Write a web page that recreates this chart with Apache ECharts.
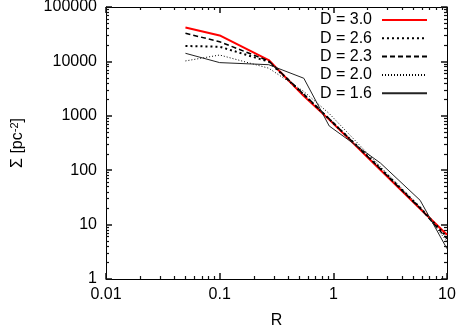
<!DOCTYPE html>
<html>
<head>
<meta charset="utf-8">
<script src="https://cdn.jsdelivr.net/npm/echarts@6/dist/echarts.min.js"></script>
<style>
  html, body { margin: 0; padding: 0; background: #fff; }
  #chart { width: 458px; height: 326px; }
</style>
</head>
<body>
<div id="chart"></div>
<script>
// radius grid shared by all profiles
const R = [0.05, 0.1, 0.27, 0.55, 0.92, 2.6, 5.8, 10];

// surface density profiles, pc^-2
const sigmaD30 = [42000, 30000, 10600, 2300, 850, 101, 19.5, 6.5];
const sigmaD26 = [19200, 18600, 9900, 2450, 870, 108, 20.5, 5.9];
const sigmaD23 = [32800, 23000, 10200, 2500, 880, 105, 20, 5.5];
const sigmaD20 = [10200, 13100, 7500, 2800, 1100, 115, 21, 4.9];
const sigmaD16 = [14100, 9500, 8700, 4900, 650, 135, 28, 3.6];

const seriesNames = ["D = 3.0", "D = 2.6", "D = 2.3", "D = 2.0", "D = 1.6"];

const FONT = "Liberation Sans, Arial, Helvetica, sans-serif";

const xRange = { min: 0.01, max: 10 };
const yRange = { min: 1, max: 100000 };

function fmtTick(v) {
  return String(+Number(v).toPrecision(6));
}

function pairs(ys) {
  return R.map((r, i) => [r, ys[i]]);
}

function lineSeries(name, ys, style) {
  return {
    name,
    type: "line",
    data: pairs(ys),
    symbol: "none",
    lineStyle: style,
    itemStyle: { color: style.color },
    emphasis: { disabled: true }
  };
}

function logAxis(range, position, labels, extra) {
  return Object.assign({
    type: "log",
    min: range.min,
    max: range.max,
    interval: 1,
    position,
    axisLine: { show: true, onZero: false, lineStyle: { color: "#000", width: 1 } },
    axisTick: { show: true, inside: true, length: 6, lineStyle: { color: "#111", width: 1.5 } },
    minorTick: { show: true, splitNumber: 9, length: 3, lineStyle: { color: "#111", width: 1.2 } },
    axisLabel: labels
      ? { show: true, color: "#000", fontFamily: FONT, fontSize: 16, formatter: fmtTick }
      : { show: false },
    splitLine: { show: false }
  }, extra || {});
}

const chart = echarts.init(document.getElementById("chart"));
chart.setOption({
  animation: false,
  backgroundColor: "#fff",
  grid: { left: 106, right: 11, top: 7, bottom: 47, outerBoundsMode: "none" },
  legend: {
    orient: "vertical",
    right: 30,
    top: 12,
    padding: 0,
    align: "right",
    itemWidth: 45,
    itemHeight: 14,
    itemGap: 2.3,
    selectedMode: false,
    data: seriesNames,
    itemStyle: { color: "transparent", borderWidth: 0, opacity: 0 },
    textStyle: { color: "#000", fontFamily: FONT, fontSize: 16, padding: [0, 5, 0, 0] }
  },
  xAxis: [
    logAxis(xRange, "bottom", true, {
      name: "R", nameLocation: "middle", nameGap: 34,
      nameTextStyle: { color: "#000", fontFamily: FONT, fontSize: 16 },
      axisLabel: { show: true, color: "#000", fontFamily: FONT, fontSize: 16, margin: 8, formatter: fmtTick }
    }),
    logAxis(xRange, "top", false)
  ],
  yAxis: [
    logAxis(yRange, "left", true, {
      name: "{a|Σ [pc}{s|-2}{a|]}", nameLocation: "middle", nameGap: 79, nameRotate: 90,
      nameTextStyle: {
        color: "#000", fontFamily: FONT, fontSize: 16,
        rich: {
          a: { color: "#000", fontFamily: FONT, fontSize: 16 },
          s: { color: "#000", fontFamily: FONT, fontSize: 11, verticalAlign: "top", padding: [0, 0, 7, 0] }
        }
      },
      axisLabel: { show: true, color: "#000", fontFamily: FONT, fontSize: 16, margin: 9, formatter: fmtTick }
    }),
    logAxis(yRange, "right", false)
  ],
  series: [
    lineSeries(seriesNames[0], sigmaD30, { color: "#ff0000", width: 2, type: "solid" }),
    lineSeries(seriesNames[1], sigmaD26, { color: "#000", width: 2, type: [2, 3] }),
    lineSeries(seriesNames[2], sigmaD23, { color: "#000", width: 1.5, type: [5, 3] }),
    lineSeries(seriesNames[3], sigmaD20, { color: "#000", width: 1, type: [1, 2] }),
    lineSeries(seriesNames[4], sigmaD16, { color: "#222", width: 1, type: "solid" })
  ]
});
</script>
</body>
</html>
